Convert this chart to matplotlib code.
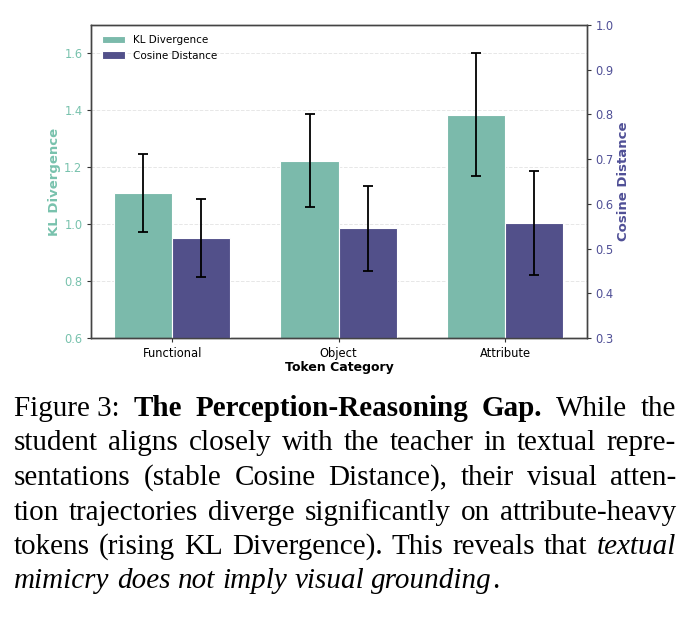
import numpy as np
import matplotlib
matplotlib.use('Agg')
import matplotlib.pyplot as plt

categories = ['Functional', 'Object', 'Attribute']
kl_mean = [1.11, 1.223, 1.384]
kl_err = [0.137, 0.163, 0.216]
cos_mean = [0.524, 0.545, 0.557]
cos_err = [0.088, 0.095, 0.116]

kl_color = '#7bbaab'
cos_color = '#52508a'
kl_text = '#78c2ad'
cos_text = '#4f4f96'

fig = plt.figure(figsize=(6.91, 6.21), dpi=100)
ax = fig.add_axes([0.1324, 0.4557, 0.849 - 0.1324, 0.9597 - 0.4557])
ax2 = ax.twinx()

x = np.arange(len(categories))
width = 0.35

b1 = ax.bar(x - width/2, kl_mean, width, color=kl_color, edgecolor='white',
            linewidth=0.8, label='KL Divergence', zorder=2)
ax.errorbar(x - width/2, kl_mean, yerr=kl_err, fmt='none', ecolor='black',
            elinewidth=1.3, capsize=3.5, capthick=1.3, zorder=3)
b2 = ax2.bar(x + width/2, cos_mean, width, color=cos_color, edgecolor='white',
             linewidth=0.8, label='Cosine Distance', zorder=2)
ax2.errorbar(x + width/2, cos_mean, yerr=cos_err, fmt='none', ecolor='black',
             elinewidth=1.3, capsize=3.5, capthick=1.3, zorder=3)

ax.set_xlim(-0.485, 2.49)
ax.set_ylim(0.6, 1.7)
ax2.set_ylim(0.3, 1.0)
ax.set_yticks([0.6, 0.8, 1.0, 1.2, 1.4, 1.6])
ax2.set_yticks([0.3, 0.4, 0.5, 0.6, 0.7, 0.8, 0.9, 1.0])

ax.set_xticks(x)
ax.set_xticklabels(categories, fontsize=8.3)
ax.set_xlabel('Token Category', fontsize=9, fontweight='bold', labelpad=1)
ax.set_ylabel('KL Divergence', fontsize=9.5, fontweight='bold', color=kl_text, labelpad=2)
ax2.set_ylabel('Cosine Distance', fontsize=9.5, fontweight='bold', color=cos_text, labelpad=2)
ax.tick_params(axis='y', labelsize=8.3, labelcolor=kl_text, color='#333333', length=3)
ax2.tick_params(axis='y', labelsize=8.3, labelcolor=cos_text, color='#333333', length=3)
ax.tick_params(axis='x', color='#333333', length=3)

ax.grid(axis='y', linestyle='--', color='#dddddd', linewidth=0.7, alpha=0.7, zorder=0)
ax.set_axisbelow(True)
for a in (ax, ax2):
    for s in a.spines.values():
        s.set_color('#444444')
        s.set_linewidth(1.0)

ax.legend([b1, b2], ['KL Divergence', 'Cosine Distance'], loc='upper left',
          frameon=False, fontsize=7.5, handlelength=2.2, borderaxespad=0.6,
          labelspacing=0.5)

# caption, justified line by line
R = 'normal'
lines = [
    [('Figure 3:', 'normal', 'normal'), ('The', 'bold', 'normal'),
     ('Perception-Reasoning', 'bold', 'normal'), ('Gap.', 'bold', 'normal'),
     ('While', R, R), ('the', R, R)],
    [(w, R, R) for w in 'student aligns closely with the teacher in textual repre-'.split()],
    [(w, R, R) for w in 'sentations (stable Cosine Distance), their visual atten-'.split()],
    [(w, R, R) for w in 'tion trajectories diverge significantly on attribute-heavy'.split()],
    [(w, R, R) for w in 'tokens (rising KL Divergence). This reveals that'.split()]
    + [('textual', R, 'italic')],
    [(w, R, 'italic') for w in 'mimicry does not imply visual grounding'.split()]
    + [('.', R, R)],
]
justify = [True, True, True, True, True, False]

x0, x1 = 14, 676
y_base = [416, 450.5, 485, 519.5, 554, 588.5]
fs = 21
fig.canvas.draw()
renderer = fig.canvas.get_renderer()
W, H = fig.bbox.width, fig.bbox.height

for words, just, yb in zip(lines, justify, y_base):
    arts = []
    for w, wt, st in words:
        t = fig.text(0, 1 - yb / H, w, fontsize=fs, fontweight=wt, fontstyle=st,
                     family='Liberation Serif', va='baseline', ha='left')
        arts.append(t)
    widths = [t.get_window_extent(renderer).width for t in arts]
    space = fs * 100 / 72 * 0.25
    if just:
        gap = (x1 - x0 - sum(widths)) / (len(arts) - 1)
    else:
        gap = space
    xp = x0
    for i, (t, wd) in enumerate(zip(arts, widths)):
        if not just and words[i][0] == '.':
            xp -= gap
        t.set_x(xp / W)
        xp += wd + gap

fig.savefig('out.png', dpi=100)
